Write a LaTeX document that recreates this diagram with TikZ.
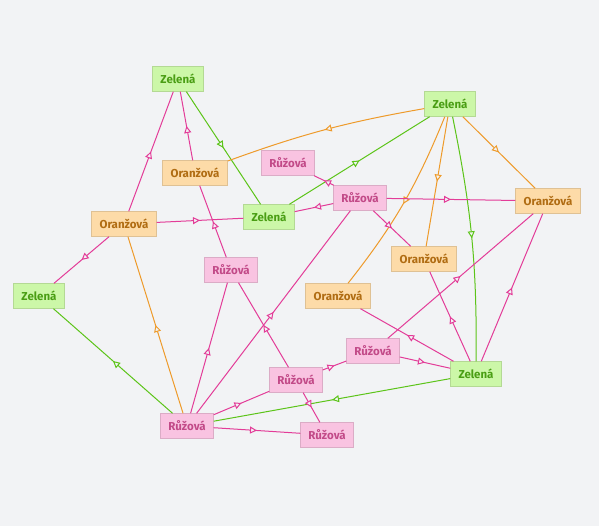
\documentclass[tikz,border=0pt]{standalone}
\usepackage{fontspec}
\setmainfont{Fira Sans}
\usetikzlibrary{arrows.meta,decorations.markings}

\definecolor{bgcol}{HTML}{F2F3F5}
\definecolor{zelfill}{HTML}{CCF7A8}
\definecolor{zeltext}{HTML}{4A9E14}
\definecolor{zelline}{HTML}{5CC419}
\definecolor{orafill}{HTML}{FDDBA8}
\definecolor{oratext}{HTML}{B06C12}
\definecolor{oraline}{HTML}{EE9A2A}
\definecolor{ruzfill}{HTML}{F9C3E1}
\definecolor{ruztext}{HTML}{C24A88}
\definecolor{ruzline}{HTML}{E33C98}

\tikzset{
  box/.style={rectangle,minimum height=25pt,inner sep=2pt,line width=0.4pt,
    font=\bfseries\fontsize{11.5}{13}\selectfont},
  zel/.style={box,fill=zelfill,draw=zelfill!88!black,text=zeltext,minimum width=51pt},
  ora/.style={box,fill=orafill,draw=orafill!88!black,text=oratext,minimum width=65pt},
  ruz/.style={box,fill=ruzfill,draw=ruzfill!88!black,text=ruztext,minimum width=53pt},
  midarrow/.style={postaction={decorate},decoration={markings,
    mark=at position 0.5 with {\arrow{Triangle[length=7pt,width=7pt,fill=bgcol]}}}},
  zedge/.style={draw=zelline,line width=1pt,midarrow},
  oedge/.style={draw=oraline,line width=1pt,midarrow},
  pedge/.style={draw=ruzline,line width=1pt,midarrow}
}

\begin{document}
\begin{tikzpicture}[x=1pt,y=-1pt]
  \fill[bgcol] (0,0) rectangle (599,526);
  \useasboundingbox (0,0) rectangle (599,526);

  % uzly
  \node[zel] (zel1) at (178,79) {Zelená};
  \node[zel] (zel2) at (450,104) {Zelená};
  \node[zel] (zel3) at (269,217) {Zelená};
  \node[zel] (zel4) at (39,296) {Zelená};
  \node[zel] (zel5) at (476,374) {Zelená};
  \node[ora] (ora1) at (195,173) {Oranžová};
  \node[ora] (ora2) at (548,201) {Oranžová};
  \node[ora] (ora3) at (124,224) {Oranžová};
  \node[ora] (ora4) at (424,259) {Oranžová};
  \node[ora] (ora5) at (338,296) {Oranžová};
  \node[ruz] (ruz1) at (288,163) {Růžová};
  \node[ruz] (ruz2) at (360,198) {Růžová};
  \node[ruz] (ruz3) at (231,270) {Růžová};
  \node[ruz] (ruz4) at (373,351) {Růžová};
  \node[ruz] (ruz5) at (296,380) {Růžová};
  \node[ruz] (ruz6) at (187,426) {Růžová};
  \node[ruz] (ruz7) at (327,435) {Růžová};

  % hrany
  \foreach \a/\b in {zel1/zel3,zel3/zel2,ruz6/zel4,zel5/ruz6}
    \draw[zedge] (\a) -- (\b);
  \draw[zedge] (zel2) to[bend left=6] (zel5);

  \foreach \a/\b in {zel2/ora2,zel2/ora4,ruz6/ora3}
    \draw[oedge] (\a) -- (\b);
  \draw[oedge] (zel2) to[bend right=5] (ora1);
  \draw[oedge] (zel2) to[bend left=8] (ora5);

  \foreach \a/\b in {ora3/zel1,ora1/zel1,ruz3/ora1,ora3/zel3,ruz2/zel3,ruz2/ruz1,
      ruz2/ora2,ruz2/ora4,ruz6/ruz2,ora3/zel4,ruz6/ruz3,ruz5/ruz3,ruz4/ora2,
      zel5/ora2,zel5/ora4,zel5/ora5,ruz4/zel5,ruz5/ruz4,ruz6/ruz5,ruz6/ruz7,ruz5/ruz7}
    \draw[pedge] (\a) -- (\b);
\end{tikzpicture}
\end{document}
